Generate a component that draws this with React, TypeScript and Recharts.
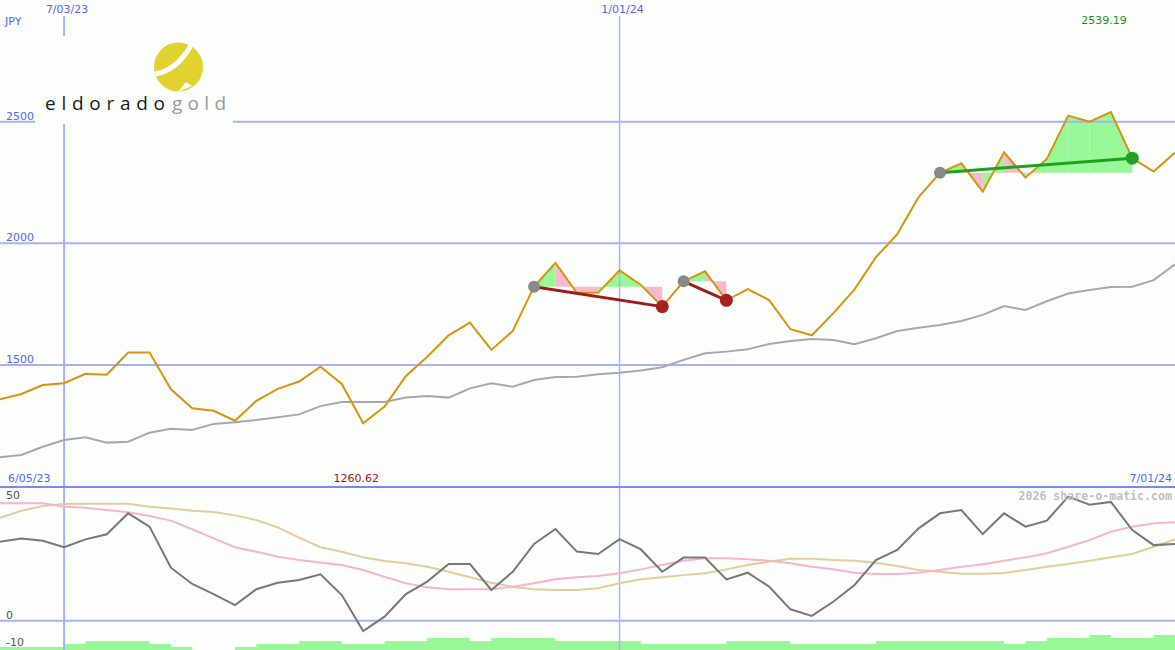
import React from 'react';
import { ComposedChart, Line, Area, XAxis, YAxis, ReferenceLine, ReferenceDot } from 'recharts';

const W = 1175;
const H_TOP = 488;
const H_BOT = 162;

// weekly closes, JPY
const price = [
  1359, 1381, 1418, 1425, 1464, 1460, 1551, 1551, 1400, 1322,
  1312, 1271, 1353, 1402, 1432, 1493, 1422, 1260.62, 1329, 1455,
  1534, 1622, 1674, 1562, 1640, 1822, 1920, 1797, 1797, 1889,
  1829, 1740, 1844, 1885, 1766, 1812, 1767, 1647, 1622, 1712,
  1811, 1943, 2038, 2190, 2290, 2329, 2212, 2374, 2270, 2347,
  2525, 2500, 2539.19, 2350, 2295, 2373,
];
const average = [
  1121, 1130, 1164, 1192, 1203, 1181, 1185, 1222, 1238, 1233,
  1258, 1265, 1274, 1285, 1297, 1331, 1348, 1348, 1348, 1366,
  1373, 1366, 1404, 1425, 1411, 1438, 1451, 1452, 1462, 1468,
  1477, 1491, 1521, 1548, 1555, 1565, 1586, 1599, 1607, 1603,
  1585, 1610, 1640, 1653, 1664, 1681, 1706, 1742, 1726, 1762,
  1794, 1808, 1821, 1822, 1849, 1914,
];
const oscillator = [
  32.9, 34.3, 33.3, 30.6, 33.9, 36, 44.75, 39.2, 22.1, 15.3,
  11.1, 6.5, 13.1, 15.8, 17, 19.3, 10.7, -4.3, 1.7, 11.1,
  16.3, 23.6, 23.6, 12.8, 20.4, 32, 38.2, 28.8, 27.8, 34,
  29.7, 20.4, 26.3, 26.3, 17.2, 20, 14.2, 4.75, 2, 7.9,
  14.9, 25.3, 29.5, 38.5, 44.75, 46.1, 36.1, 44.75, 39.2, 41.7,
  51.7, 48.3, 49.5, 37.8, 31.5, 32,
];
const oscFast = [
  48.9, 48.9, 48.9, 47.5, 47.1, 46.1, 45.2, 43.6, 41.7, 38.1,
  34.3, 30.6, 28.75, 26.7, 25.3, 24.3, 23.2, 21.1, 18.3, 15.6,
  13.9, 13.1, 13.1, 13.1, 14.2, 15.6, 17.25, 18.1, 18.6, 19.75,
  21.4, 23.2, 25, 26, 26, 25.6, 25, 23.9, 22.5, 21.4,
  20, 19.5, 19.5, 20, 21.1, 22.5, 23.5, 25, 26.4, 28.1,
  30.8, 33.6, 37.1, 39.2, 40.6, 41,
];
const oscSlow = [
  42.9, 45.8, 47.8, 48.6, 48.75, 48.75, 48.75, 47.5, 46.8, 45.8,
  45.3, 43.9, 41.95, 38.9, 34.6, 30.6, 28.75, 26.4, 24.9, 23.9,
  22.5, 20.4, 18.1, 15.8, 14.2, 13.1, 12.8, 12.8, 13.5, 15.6,
  17.25, 18.1, 19, 19.75, 21.4, 23.2, 24.6, 25.8, 25.8, 25.3,
  25, 24.2, 22.8, 21.1, 20.4, 19.6, 19.6, 19.9, 21.1, 22.5,
  23.6, 25, 26.4, 27.8, 30.8, 33.9,
];
const volumeLevel = [
  1, 1, 1, 2, 3, 3, 3, 2, 1, 0,
  0, 1, 2, 2, 3, 3, 2, 2, 3, 3,
  4, 4, 3, 4, 4, 4, 3, 3, 3, 3,
  2, 2, 2, 2, 3, 3, 3, 2, 2, 2,
  2, 3, 3, 3, 3, 3, 3, 2, 3, 4,
  4, 5, 4, 4, 5, 5,
];

const priceTicks = [1500, 2000, 2500];
const oscTicks = [50, 0, -10];
const dateLineIndex = [3, 29];
const dateLineLabel = ['7/03/23', '1/01/24'];
const rangeStartLabel = '6/05/23';
const rangeEndLabel = '7/01/24';
const currency = 'JPY';
const credit = '2026 share-o-matic.com';

const patternStart = [25, 32, 44];
const patternEnd = [31, 34, 53];
const patternBullish = [false, false, true];
const upSegments = [25, 28, 29, 32, 44, 46, 48, 49, 50, 51, 52];
const downSegments = [26, 27, 30, 33, 45, 47];

const data = price.map((p, i) => ({
  i,
  price: p,
  avg: average[i],
  osc: oscillator[i],
  fast: oscFast[i],
  slow: oscSlow[i],
  vol: volumeLevel[i],
}));

const maxIdx = price.indexOf(Math.max(...price));
const minIdx = price.indexOf(Math.min(...price));

const baseFor = (k: number) => {
  const j = patternStart.findIndex((s, n) => k >= s && k < patternEnd[n]);
  return price[patternStart[j]];
};

const BG = '#fcfefc';
const BLUE_TXT = '#5565f0';
const GRID = '#a6b2f4';
const BORDER = '#7b88ee';
const FONT = '"DejaVu Sans", sans-serif';

const GridLabel = (props: any) => {
  const { viewBox, text, color, dy = -2 } = props;
  if (!viewBox) return null;
  return (
    <text x={viewBox.x + 6} y={viewBox.y + dy} fill={color} fontSize={11} fontFamily={FONT}>
      {text}
    </text>
  );
};

const TopLabel = (props: any) => {
  const { viewBox, text } = props;
  if (!viewBox) return null;
  return (
    <text x={viewBox.x + 3} y={viewBox.y - 3} fill={BLUE_TXT} fontSize={11} fontFamily={FONT} textAnchor="middle">
      {text}
    </text>
  );
};

const ExtremeLabel = (props: any) => {
  const { viewBox, text, color, atTop } = props;
  if (!viewBox) return null;
  const y = atTop ? viewBox.y + 8 : viewBox.y + viewBox.height - 6;
  return (
    <text x={viewBox.x - 7} y={y} fill={color} fontSize={11} fontFamily={FONT} textAnchor="middle">
      {text}
    </text>
  );
};

const segmentArea = (k: number, color: string, key: string) => (
  <Area
    key={key}
    type="linear"
    dataKey={(d: any) => (d.i === k || d.i === k + 1 ? [baseFor(k), d.price] : null)}
    stroke="none"
    fill={color}
    fillOpacity={1}
    dot={false}
    activeDot={false}
    connectNulls={false}
    isAnimationActive={false}
  />
);

export default function App() {
  return (
    <div style={{ position: 'absolute', left: 0, top: 0, width: W, height: H_TOP + H_BOT, background: BG, overflow: 'hidden' }}>
      <div style={{ position: 'absolute', left: 0, top: 0 }}>
        <ComposedChart width={W} height={H_TOP} data={data} margin={{ top: 16, right: 0, bottom: 0, left: 0 }}>
          <XAxis dataKey="i" type="number" domain={[0, 55]} hide />
          <YAxis type="number" domain={[994.5, 2934.4]} hide allowDataOverflow />
          {priceTicks.map((t) => (
            <ReferenceLine key={'pt' + t} y={t} stroke={GRID} strokeWidth={2} label={<GridLabel text={String(t)} color={BLUE_TXT} />} />
          ))}
          {dateLineIndex.map((x, k) => (
            <ReferenceLine key={'dl' + x} x={x} stroke={GRID} strokeWidth={k === 0 ? 2 : 1.5} label={<TopLabel text={dateLineLabel[k]} />} />
          ))}
          <ReferenceLine x={maxIdx} stroke="none" label={<ExtremeLabel text={price[maxIdx].toFixed(2)} color="#189018" atTop />} />
          <ReferenceLine x={minIdx} stroke="none" label={<ExtremeLabel text={price[minIdx].toFixed(2)} color="#a01818" atTop={false} />} />
          {upSegments.map((k) => segmentArea(k, '#98f898', 'up' + k))}
          {downSegments.map((k) => segmentArea(k, '#f8b8cc', 'dn' + k))}
          <Line type="linear" dataKey="avg" stroke="#a8a8a8" strokeWidth={2} dot={false} activeDot={false} isAnimationActive={false} />
          <Line type="linear" dataKey="price" stroke="#d8940c" strokeWidth={2} dot={false} activeDot={false} isAnimationActive={false} />
          {patternStart.map((s, n) => (
            <ReferenceLine
              key={'pl' + s}
              segment={[{ x: s, y: price[s] }, { x: patternEnd[n], y: price[patternEnd[n]] }]}
              stroke={patternBullish[n] ? '#20a020' : '#a01c1c'}
              strokeWidth={3}
            />
          ))}
          {patternStart.map((s) => (
            <ReferenceDot key={'ps' + s} x={s} y={price[s]} r={6} fill="#888888" stroke="none" />
          ))}
          {patternEnd.map((e, n) => (
            <ReferenceDot key={'pe' + e} x={e} y={price[e]} r={6.5} fill={patternBullish[n] ? '#22a022' : '#a82020'} stroke="none" />
          ))}
        </ComposedChart>
      </div>
      <div style={{ position: 'absolute', left: 0, top: 486, width: W, height: 2, background: BORDER }} />
      <div style={{ position: 'absolute', left: 0, top: H_TOP }}>
        <ComposedChart width={W} height={H_BOT} data={data} margin={{ top: 0, right: 0, bottom: 0, left: 0 }}>
          <XAxis dataKey="i" type="number" domain={[0, 55]} hide />
          <YAxis yAxisId="osc" type="number" domain={[-12.2, 55.3]} hide allowDataOverflow />
          <YAxis yAxisId="vol" type="number" domain={[0, 54]} hide allowDataOverflow />
          {oscTicks.map((t) => (
            <ReferenceLine
              key={'ot' + t}
              yAxisId="osc"
              y={t}
              stroke={t === 0 ? GRID : 'none'}
              strokeWidth={2}
              label={<GridLabel text={String(t)} color="#555555" dy={t === -10 ? 1 : -2} />}
            />
          ))}
          {dateLineIndex.map((x, k) => (
            <ReferenceLine key={'odl' + x} yAxisId="osc" x={x} stroke={GRID} strokeWidth={k === 0 ? 2 : 1.5} />
          ))}
          <Area yAxisId="vol" type="stepAfter" dataKey="vol" stroke="none" fill="#98f898" fillOpacity={1} baseValue={0} dot={false} activeDot={false} isAnimationActive={false} />
          <Line yAxisId="osc" type="linear" dataKey="slow" stroke="#e4cc9c" strokeWidth={2} dot={false} activeDot={false} isAnimationActive={false} />
          <Line yAxisId="osc" type="linear" dataKey="fast" stroke="#f8b4c8" strokeWidth={2} dot={false} activeDot={false} isAnimationActive={false} />
          <Line yAxisId="osc" type="linear" dataKey="osc" stroke="#787878" strokeWidth={2} dot={false} activeDot={false} isAnimationActive={false} />
        </ComposedChart>
      </div>
      <svg width={W} height={H_TOP + H_BOT} style={{ position: 'absolute', left: 0, top: 0, pointerEvents: 'none' }}>
        <text x={5} y={25} fill={BLUE_TXT} fontSize={11} fontFamily={FONT}>{currency}</text>
        <text x={8} y={482} fill={BLUE_TXT} fontSize={11} fontFamily={FONT}>{rangeStartLabel}</text>
        <text x={1172} y={482} fill={BLUE_TXT} fontSize={11} fontFamily={FONT} textAnchor="end">{rangeEndLabel}</text>
        <text x={1172} y={500} fill="#c0c0c0" fontSize={11.6} fontWeight="bold" fontFamily='"DejaVu Sans Mono", monospace' textAnchor="end">{credit}</text>
        <rect x={35} y={36} width={198} height={88} fill={BG} />
        <circle cx={178.5} cy={67} r={24.5} fill="#e2d12e" />
        <path d="M151 75 C 166 73, 181 64, 191 45" stroke={BG} strokeWidth={5} fill="none" />
        <path d="M178 92 L 186 82 L 192 86 Z" fill={BG} />
        <text x={45} y={110} fontSize={19} fontFamily='"Open Sans", sans-serif' fill="#1a1a1a" textLength={120} lengthAdjust="spacing">eldorado</text>
        <text x={172} y={110} fontSize={19} fontFamily='"Open Sans", sans-serif' fill="#9a9a9a" textLength={54} lengthAdjust="spacing">gold</text>
      </svg>
    </div>
  );
}
